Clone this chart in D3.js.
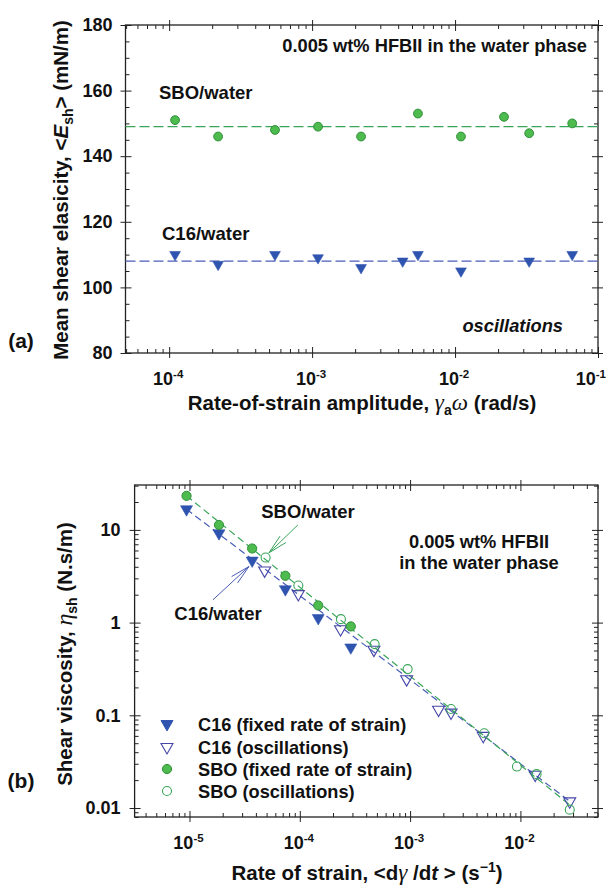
<!DOCTYPE html>
<html><head><meta charset="utf-8">
<script src="https://cdn.jsdelivr.net/npm/d3@7"></script>
<style>
body{margin:0;background:#fff}
svg{display:block}
text{font-family:"Liberation Sans",Arial,sans-serif;font-weight:bold;fill:#111}
</style>
</head><body>
<svg id="c" width="612" height="886"></svg>
<script>
// ---------- Panel (a) data ----------
const aSBORate = [1.1e-4, 2.2e-4, 5.5e-4, 1.1e-3, 2.2e-3, 5.5e-3, 1.1e-2, 2.2e-2, 3.3e-2, 6.6e-2];
const aSBO     = [151, 146, 148, 149, 146, 153, 146, 152, 147, 150];
const aC16Rate = [1.1e-4, 2.2e-4, 5.5e-4, 1.1e-3, 2.2e-3, 4.3e-3, 5.5e-3, 1.1e-2, 3.3e-2, 6.6e-2];
const aC16     = [110, 107, 110, 109, 106, 108, 110, 105, 108, 110];
const aMeanSBO = 149;
const aMeanC16 = 108;
const aXTicks = [1e-4, 1e-3, 1e-2, 1e-1];
const aXTickExp = ["-4", "-3", "-2", "-1"];
const aYTicks = [80, 100, 120, 140, 160, 180];

// ---------- Panel (b) data ----------
const bFixedRate  = [9.4e-6, 1.85e-5, 3.7e-5, 7.4e-5, 1.47e-4, 2.9e-4];
const bSBOFixed   = [23.3, 11.3, 6.3, 3.2, 1.53, 0.91];
const bC16Fixed   = [16.7, 9.2, 4.67, 2.29, 1.12, 0.54];
const bC16OscRate = [4.8e-5, 9.7e-5, 2.34e-4, 4.7e-4, 9.3e-4, 1.81e-3, 2.35e-3, 4.6e-3, 1.36e-2, 2.8e-2];
const bC16Osc     = [3.65, 2.03, 0.85, 0.51, 0.245, 0.115, 0.107, 0.060, 0.0229, 0.0118];
const bSBOOscRate = [4.9e-5, 9.7e-5, 2.36e-4, 4.77e-4, 9.5e-4, 2.35e-3, 4.7e-3, 9.3e-3, 1.4e-2, 2.8e-2];
const bSBOOsc     = [5.03, 2.51, 1.09, 0.586, 0.315, 0.117, 0.064, 0.028, 0.0232, 0.0096];
const bFitRate    = [9.4e-6, 2.8e-2];
const bSBOFit     = [23.3, 0.0108];
const bC16Fit     = [16.7, 0.0118];
const bXTicks = [1e-5, 1e-4, 1e-3, 1e-2];
const bXTickExp = ["-5", "-4", "-3", "-2"];
const bYTicks = [0.01, 0.1, 1, 10];
const bYTickLabels = ["0.01", "0.1", "1", "10"];
const legendLabels = ["C16 (fixed rate of strain)", "C16 (oscillations)", "SBO (fixed rate of strain)", "SBO (oscillations)"];

const GREEN_FILL = "#4dbb4d", GREEN_STROKE = "#2f8f3a", GREEN_LINE = "#3aa55a";
const BLUE_FILL = "#2f54b0", BLUE_LINE = "#4a5db8", BLUE_OPEN = "#4646a8";
const SERIF = '"Liberation Serif","Times New Roman",serif';

const svg = d3.select("#c");

function logMinors(domain) {
  const out = [];
  const lo = Math.floor(Math.log10(domain[0])), hi = Math.ceil(Math.log10(domain[1]));
  for (let e = lo; e <= hi; e++) for (let m = 2; m <= 9; m++) {
    const v = m * Math.pow(10, e);
    if (v >= domain[0] && v <= domain[1]) out.push(v);
  }
  return out;
}

function frameAxes(g, x, y, xMaj, xMin, yMaj, yMin, W, H) {
  const mk = (axisFn, scale, vals, size) => axisFn(scale).tickValues(vals).tickSize(size).tickSizeOuter(0).tickFormat("");
  const add = (ax, tx, ty) => {
    const s = g.append("g").attr("transform", `translate(${tx},${ty})`).call(ax);
    s.select(".domain").remove();
    s.selectAll("line").attr("stroke", "#222").attr("stroke-width", 1);
  };
  add(mk(d3.axisBottom, x, xMaj, 5), 0, H);
  add(mk(d3.axisBottom, x, xMaj, -6), 0, H);
  add(mk(d3.axisBottom, x, xMin, -4), 0, H);
  add(mk(d3.axisTop, x, xMaj, 5), 0, 0);
  add(mk(d3.axisTop, x, xMaj, -6), 0, 0);
  add(mk(d3.axisTop, x, xMin, -4), 0, 0);
  add(mk(d3.axisLeft, y, yMaj, 5), 0, 0);
  add(mk(d3.axisLeft, y, yMaj, -6), 0, 0);
  add(mk(d3.axisLeft, y, yMin, -4), 0, 0);
  add(mk(d3.axisRight, y, yMaj, 5), W, 0);
  add(mk(d3.axisRight, y, yMaj, -6), W, 0);
  add(mk(d3.axisRight, y, yMin, -4), W, 0);
  g.append("rect").attr("width", W).attr("height", H).attr("fill", "none").attr("stroke", "#222").attr("stroke-width", 1.3);
}

function powLabels(g, x, vals, exps, yPos, originX) {
  vals.forEach((v, i) => {
    const t = g.append("text").attr("x", x(v) - 1).attr("y", yPos).attr("text-anchor", "middle").style("font-size", "18px");
    t.append("tspan").text("10");
    t.append("tspan").attr("dy", -7).style("font-size", "11.5px").text(exps[i]);
    const w = t.node().getComputedTextLength();
    const right = originX + x(v) - 1 + w / 2;
    if (right > 606) t.attr("x", x(v) - 1 - (right - 606));
  });
}

const tri = d3.symbol().type(d3.symbolTriangle);
function triDown(sz) { return tri.size(sz)(); }

function styleTickText(sel) {
  sel.selectAll("text").style("font-size", "18px").style("font-family", '"Liberation Sans",Arial,sans-serif')
    .style("font-weight", "bold").attr("fill", "#111");
}

// ================= Panel (a) =================
{
  const L = 125.5, T = 25, W = 598 - 125.5, H = 353 - 25;
  const g = svg.append("g").attr("transform", `translate(${L},${T})`);
  const x = d3.scaleLog().domain([4.95e-5, 1e-1]).range([0, W]);
  const y = d3.scaleLinear().domain([80, 180]).range([H, 0]);
  const yMin = d3.range(80, 181, 5).filter(v => v % 20 !== 0);
  frameAxes(g, x, y, aXTicks, logMinors(x.domain()), aYTicks, yMin, W, H);

  const ya = g.append("g").call(d3.axisLeft(y).tickValues(aYTicks).tickSize(0).tickPadding(13));
  ya.select(".domain").remove();
  styleTickText(ya);
  powLabels(g, x, aXTicks, aXTickExp, H + 32, L);

  g.append("line").attr("x1", 0).attr("x2", W).attr("y1", y(aMeanSBO)).attr("y2", y(aMeanSBO))
    .attr("stroke", GREEN_LINE).attr("stroke-width", 1.3).attr("stroke-dasharray", "10,4");
  g.append("line").attr("x1", 0).attr("x2", W).attr("y1", y(aMeanC16)).attr("y2", y(aMeanC16))
    .attr("stroke", BLUE_LINE).attr("stroke-width", 1.3).attr("stroke-dasharray", "10,4");

  g.selectAll("circle.sbo").data(aSBO).join("circle").attr("class", "sbo")
    .attr("cx", (d, i) => x(aSBORate[i])).attr("cy", d => y(d)).attr("r", 4.4)
    .attr("fill", GREEN_FILL).attr("stroke", GREEN_STROKE).attr("stroke-width", 1);
  g.selectAll("path.c16").data(aC16).join("path").attr("class", "c16")
    .attr("d", triDown(50))
    .attr("transform", (d, i) => `translate(${x(aC16Rate[i])},${y(d)}) rotate(180)`)
    .attr("fill", BLUE_FILL).attr("stroke", BLUE_FILL).attr("stroke-width", 0.6);

  g.append("text").attr("x", 587 - L).attr("y", 52 - T).attr("text-anchor", "end").style("font-size", "18.3px")
    .text("0.005 wt% HFBII in the water phase");
  g.append("text").attr("x", 159 - L).attr("y", 99 - T).style("font-size", "18.5px").text("SBO/water");
  g.append("text").attr("x", 162 - L).attr("y", 240 - T).style("font-size", "18.5px").text("C16/water");
  g.append("text").attr("x", 563 - L).attr("y", 332 - T).attr("text-anchor", "end").style("font-size", "18.3px")
    .style("font-style", "italic").text("oscillations");

  const xt = svg.append("text").attr("x", 362).attr("y", 410).attr("text-anchor", "middle").style("font-size", "20.5px");
  xt.append("tspan").text("Rate-of-strain amplitude, ");
  xt.append("tspan").style("font-family", SERIF).style("font-style", "italic").style("font-weight", "normal").style("font-size", "23px").text("γ");
  xt.append("tspan").attr("dy", 5).style("font-size", "14px").text("a");
  xt.append("tspan").attr("dy", -5).style("font-family", SERIF).style("font-style", "italic").style("font-weight", "normal").style("font-size", "23px").text("ω");
  xt.append("tspan").text(" (rad/s)");

  const yt = svg.append("text").attr("transform", `translate(68,${T + H / 2 + 1}) rotate(-90)`).attr("text-anchor", "middle").style("font-size", "20.5px");
  yt.append("tspan").text("Mean shear elasicity, <");
  yt.append("tspan").style("font-style", "italic").text("E");
  yt.append("tspan").attr("dy", 5).style("font-size", "14px").text("sh");
  yt.append("tspan").attr("dy", -5).text("> (mN/m)");

  svg.append("text").attr("x", 21).attr("y", 348).attr("text-anchor", "middle").style("font-size", "21px").text("(a)");
}

// ================= Panel (b) =================
{
  const L = 134.6, T = 485, W = 598 - 134.6, H = 817 - 485;
  const g = svg.append("g").attr("transform", `translate(${L},${T})`);
  const x = d3.scaleLog().domain([3.18e-6, 5.05e-2]).range([0, W]);
  const y = d3.scaleLog().domain([0.008, 30.5]).range([H, 0]);
  frameAxes(g, x, y, bXTicks, logMinors(x.domain()), bYTicks, logMinors(y.domain()), W, H);

  const ya = g.append("g").call(d3.axisLeft(y).tickValues(bYTicks).tickSize(0).tickPadding(14).tickFormat((d, i) => bYTickLabels[i]));
  ya.select(".domain").remove();
  styleTickText(ya);
  powLabels(g, x, bXTicks, bXTickExp, H + 32, L);

  const line = d3.line().x(d => x(d[0])).y(d => y(d[1]));
  g.append("path").attr("d", line(bFitRate.map((r, i) => [r, bC16Fit[i]])))
    .attr("stroke", BLUE_LINE).attr("stroke-width", 1.2).attr("fill", "none").attr("stroke-dasharray", "7,4");
  g.append("path").attr("d", line(bFitRate.map((r, i) => [r, bSBOFit[i]])))
    .attr("stroke", GREEN_LINE).attr("stroke-width", 1.2).attr("fill", "none").attr("stroke-dasharray", "7,4");

  g.selectAll("path.c16o").data(bC16Osc).join("path").attr("class", "c16o")
    .attr("d", triDown(62))
    .attr("transform", (d, i) => `translate(${x(bC16OscRate[i])},${y(d)}) rotate(180)`)
    .attr("fill", "none").attr("stroke", BLUE_OPEN).attr("stroke-width", 1.1);
  g.selectAll("circle.sbo").data(bSBOOsc).join("circle").attr("class", "sbo")
    .attr("cx", (d, i) => x(bSBOOscRate[i])).attr("cy", d => y(d)).attr("r", 4.5)
    .attr("fill", "none").attr("stroke", GREEN_LINE).attr("stroke-width", 1.1);
  g.selectAll("path.c16f").data(bC16Fixed).join("path").attr("class", "c16f")
    .attr("d", triDown(62))
    .attr("transform", (d, i) => `translate(${x(bFixedRate[i])},${y(d)}) rotate(180)`)
    .attr("fill", BLUE_FILL).attr("stroke", BLUE_FILL).attr("stroke-width", 0.6);
  g.selectAll("circle.sbof").data(bSBOFixed).join("circle").attr("class", "sbof")
    .attr("cx", (d, i) => x(bFixedRate[i])).attr("cy", d => y(d)).attr("r", 4.6)
    .attr("fill", GREEN_FILL).attr("stroke", GREEN_STROKE).attr("stroke-width", 1);

  function arrow(t, h, col) {
    const x1 = x(t[0]), y1 = y(t[1]), x2 = x(h[0]), y2 = y(h[1]);
    const ang = Math.atan2(y1 - y2, x1 - x2);
    g.append("line").attr("x1", x1).attr("y1", y1).attr("x2", x2).attr("y2", y2).attr("stroke", col).attr("stroke-width", 1);
    [0.22, -0.22].forEach(da => {
      const len = 20;
      g.append("line").attr("x1", x2).attr("y1", y2)
        .attr("x2", x2 + len * Math.cos(ang + da)).attr("y2", y2 + len * Math.sin(ang + da))
        .attr("stroke", col).attr("stroke-width", 1);
    });
  }
  arrow([9.6e-5, 11.3], [5.25e-5, 5.65], GREEN_LINE);
  arrow([1.63e-5, 1.76], [3.46e-5, 4.03], BLUE_LINE);

  g.append("text").attr("x", 308 - L).attr("y", 518 - T).attr("text-anchor", "middle").style("font-size", "18.5px").text("SBO/water");
  g.append("text").attr("x", 218 - L).attr("y", 620 - T).attr("text-anchor", "middle").style("font-size", "18.5px").text("C16/water");
  g.append("text").attr("x", 479 - L).attr("y", 548 - T).attr("text-anchor", "middle").style("font-size", "18.3px").text("0.005 wt% HFBII");
  g.append("text").attr("x", 479 - L).attr("y", 569 - T).attr("text-anchor", "middle").style("font-size", "18.3px").text("in the water phase");

  const ly = [724, 747, 769, 791];
  const lg = svg.append("g");
  lg.append("path").attr("d", triDown(62)).attr("transform", `translate(167,${ly[0]}) rotate(180)`).attr("fill", BLUE_FILL).attr("stroke", BLUE_FILL);
  lg.append("path").attr("d", triDown(62)).attr("transform", `translate(167,${ly[1]}) rotate(180)`).attr("fill", "none").attr("stroke", BLUE_OPEN).attr("stroke-width", 1.1);
  lg.append("circle").attr("cx", 167).attr("cy", ly[2]).attr("r", 4.6).attr("fill", GREEN_FILL).attr("stroke", GREEN_STROKE);
  lg.append("circle").attr("cx", 167).attr("cy", ly[3]).attr("r", 4.5).attr("fill", "none").attr("stroke", GREEN_LINE).attr("stroke-width", 1.1);
  legendLabels.forEach((t, i) => lg.append("text").attr("x", 198).attr("y", ly[i] + 6.5).style("font-size", "18.2px").text(t));

  const xt = svg.append("text").attr("x", 367).attr("y", 880).attr("text-anchor", "middle").style("font-size", "20.5px");
  xt.append("tspan").text("Rate of strain, <d");
  xt.append("tspan").style("font-family", SERIF).style("font-style", "italic").style("font-weight", "normal").style("font-size", "23px").text("γ");
  xt.append("tspan").text(" /d");
  xt.append("tspan").style("font-style", "italic").text("t");
  xt.append("tspan").text(" >  (s");
  xt.append("tspan").attr("dy", -8).style("font-size", "14px").text("−1");
  xt.append("tspan").attr("dy", 8).text(")");

  const yt = svg.append("text").attr("transform", `translate(72,${T + H / 2 + 3}) rotate(-90)`).attr("text-anchor", "middle").style("font-size", "20.5px");
  yt.append("tspan").text("Shear viscosity,  ");
  yt.append("tspan").style("font-family", SERIF).style("font-style", "italic").style("font-weight", "normal").style("font-size", "24px").text("η");
  yt.append("tspan").attr("dy", 5).style("font-size", "14px").text("sh");
  yt.append("tspan").attr("dy", -5).text("  (N.s/m)");

  svg.append("text").attr("x", 21).attr("y", 788).attr("text-anchor", "middle").style("font-size", "21px").text("(b)");
}
</script>
</body></html>
